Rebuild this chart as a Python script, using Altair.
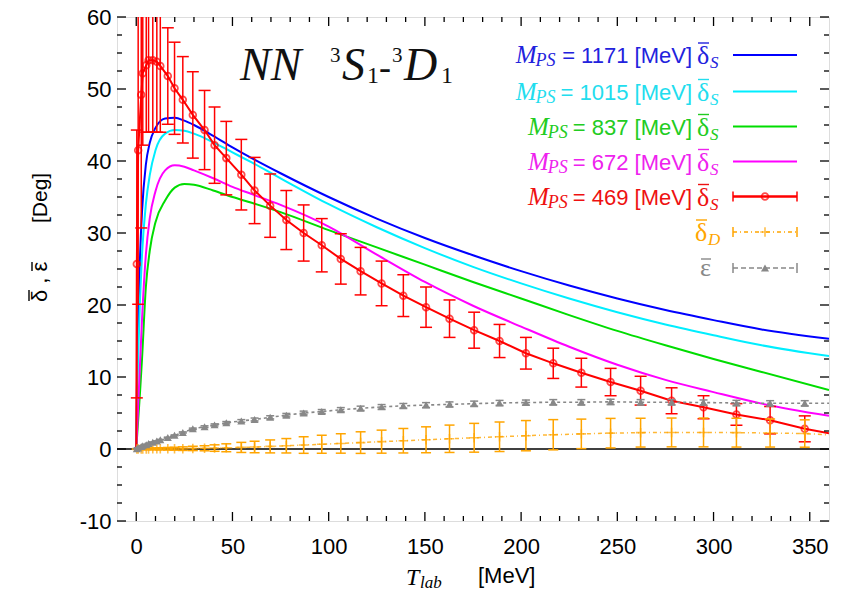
import altair as alt
import pandas as pd

# ---------------- values ----------------
T_CURVE = [0, 0.5, 1, 2, 3, 5, 7, 10, 15, 20, 25, 30, 40, 50, 60, 75, 100,
           125, 150, 175, 200, 225, 250, 275, 300, 325, 360]
S_1171 = [0, 12, 18, 27, 33, 39.5, 42.5, 44.6, 45.9, 46.0, 45.6, 45.0, 43.5, 41.9,
          40.4, 38.3, 35.0, 32.0, 29.3, 26.9, 24.7, 22.7, 20.9, 19.3, 17.9, 16.6, 15.3]
S_1015 = [0, 8, 13, 21, 27, 34, 38, 41.5, 43.8, 44.3, 44.2, 43.8, 42.6, 41.2,
          39.8, 37.6, 34.0, 30.8, 27.9, 25.3, 23.0, 20.9, 19.0, 17.3, 15.8, 14.4, 12.9]
S_837 = [0, 2, 4, 8, 12.5, 22.5, 27.5, 31.5, 34.5, 36.3, 36.8, 36.7, 35.9, 35.0,
         34.2, 32.9, 30.4, 28.0, 25.6, 23.2, 20.9, 18.6, 16.4, 14.4, 12.5, 10.7, 8.2]
S_672 = [0, 3, 6, 12, 18, 27, 32, 35.8, 38.7, 39.4, 39.2, 38.7, 37.6, 36.4,
         35.4, 33.9, 30.9, 27.0, 23.2, 19.9, 17.0, 14.2, 11.7, 9.6, 7.9, 6.3, 4.6]

T_PTS = [0.3, 1.0, 2.6, 3.4, 5.2, 6.4, 8.6, 10.7, 12.5, 16.4, 19.9, 24.2, 29.4, 35.5,
         40.7, 46.8, 54.6, 61.5, 69.6, 78.0, 87.0, 96.4, 106.3, 116.6, 127.5, 138.8,
         150.6, 162.8, 175.6, 188.8, 202.5, 216.7, 231.3, 246.5, 262.1, 278.2, 294.8,
         311.9, 329.4, 347.4]
S_469 = [25.7, 41.5, 49.2, 52.2, 53.3, 54.0, 54.0, 53.8, 53.2, 51.8, 50.1, 48.5, 46.4,
         44.3, 42.2, 40.4, 38.1, 35.9, 33.8, 31.8, 30.0, 28.3, 26.4, 24.7, 23.0, 21.3,
         19.7, 18.1, 16.5, 15.0, 13.3, 11.9, 10.6, 9.3, 8.1, 6.7, 5.8, 4.8, 4.0, 2.8]
E_469 = [18.6, 21.4, 18.5, 10.0, 9.3, 10.0, 10.0, 9.8, 9.2, 6.7, 6.4, 6.0, 6.0, 5.5,
         5.3, 5.1, 4.9, 4.6, 4.4, 4.1, 3.9, 3.7, 3.5, 3.3, 3.1, 2.9, 2.8, 2.6, 2.5, 2.3,
         2.2, 2.1, 2.0, 1.9, 2.0, 1.8, 1.6, 1.5, 1.9, 1.8]
D_D = [0.0, 0.0, 0.01, 0.01, 0.01, 0.01, 0.02, 0.02, 0.02, 0.03, 0.04, 0.05, 0.08, 0.1,
       0.13, 0.17, 0.22, 0.28, 0.36, 0.45, 0.55, 0.66, 0.77, 0.89, 1.02, 1.15, 1.28, 1.42,
       1.56, 1.7, 1.85, 1.98, 2.1, 2.2, 2.27, 2.3, 2.3, 2.27, 2.22, 2.15]
E_D = [0.05, 0.05, 0.08, 0.08, 0.1, 0.1, 0.12, 0.12, 0.15, 0.18, 0.2, 0.25, 0.3, 0.35,
       0.45, 0.55, 0.7, 0.8, 0.9, 1.0, 1.15, 1.25, 1.35, 1.5, 1.6, 1.7, 1.8, 1.9, 2.0, 2.05,
       2.1, 2.1, 2.05, 2.05, 2.0, 2.0, 2.0, 2.0, 1.95, 1.9]
EPS = [0.05, 0.15, 0.35, 0.45, 0.6, 0.75, 0.95, 1.1, 1.3, 1.6, 1.9, 2.3, 2.8, 3.1, 3.35,
       3.65, 3.9, 4.1, 4.4, 4.7, 5.0, 5.2, 5.45, 5.65, 5.85, 6.0, 6.1, 6.2, 6.3, 6.4, 6.45,
       6.5, 6.5, 6.55, 6.5, 6.5, 6.45, 6.4, 6.35, 6.35]
E_EPS = [0.03] * 9 + [0.05, 0.06, 0.08, 0.1, 0.12, 0.14, 0.16, 0.18, 0.2, 0.22, 0.24,
                      0.26, 0.28, 0.3, 0.3, 0.32, 0.32, 0.34, 0.34, 0.35, 0.35,
                      0.35, 0.36, 0.36, 0.36, 0.36, 0.36, 0.36, 0.36, 0.36, 0.36]
# line end values (T = 0 and right edge T = 360)
END_469 = [0.0, 2.2]
END_D = [0.0, 1.95]
END_EPS = [0.0, 6.35]

MASSES = ["1171", "1015", "837", "672", "469"]
X_MAJOR = [0, 50, 100, 150, 200, 250, 300, 350]
Y_MAJOR = [-10, 0, 10, 20, 30, 40, 50, 60]
X_MINOR = [t for t in range(10, 360, 10) if t % 50 != 0]
Y_MINOR = [v / 2 for v in range(-15, 120, 5) if v % 20 != 0]

BLUE, CYAN, GREEN, MAGENTA = "#0000ff", "#00eeff", "#00dd00", "#ff00ff"
RED, ORANGE, GRAY = "#ff0000", "#ffa500", "#888888"
SANS, SERIF = "Liberation Sans", "Liberation Serif"

W, H = 712, 504

# ---------------- scales / axes ----------------
XS = alt.Scale(domain=[-10, 360], nice=False, zero=False)
YS = alt.Scale(domain=[-10, 60], nice=False, zero=False)
XAX = alt.Axis(values=X_MAJOR, grid=False, ticks=False, tickSize=0, domain=False,
               labelFont=SANS, labelFontSize=22, labelColor="black", labelPadding=15,
               labelFlush=False, title=None)
YAX = alt.Axis(values=Y_MAJOR, grid=False, ticks=False, tickSize=0, domain=False,
               labelFont=SANS, labelFontSize=22, labelColor="black", labelPadding=6,
               labelExpr="datum.value + ''", title=None)


def X(f):
    return alt.X(f"{f}:Q", scale=XS, axis=XAX)


def Y(f):
    return alt.Y(f"{f}:Q", scale=YS, axis=YAX)


layers = []

# zero line
layers.append(alt.Chart(pd.DataFrame({"z": [0]})).mark_rule(color="black", strokeWidth=1.5)
              .encode(y=Y("z")))

# smooth curves
rows = []
for name, vals in [("1171", S_1171), ("1015", S_1015), ("837", S_837), ("672", S_672)]:
    for t, v in zip(T_CURVE, vals):
        rows.append({"T": t, "v": v, "s": name})
curves = pd.DataFrame(rows)
layers.append(alt.Chart(curves).mark_line(strokeWidth=2, interpolate="monotone", clip=True)
              .encode(x=X("T"), y=Y("v"),
                      color=alt.Color("s:N", scale=alt.Scale(domain=["1171", "1015", "837", "672"],
                                                             range=[BLUE, CYAN, GREEN, MAGENTA]),
                                      legend=None),
                      detail="s:N"))


def point_series(vals, errs, ends, color, line_kw, marker_kw, cap=10):
    pts = pd.DataFrame({"T": T_PTS, "v": vals,
                        "lo": [a - b for a, b in zip(vals, errs)],
                        "hi": [a + b for a, b in zip(vals, errs)]})
    ln = pd.DataFrame({"T": [0] + T_PTS + [360], "v": [ends[0]] + vals + [ends[1]]})
    out = [
        alt.Chart(ln).mark_line(color=color, clip=True, **line_kw).encode(x=X("T"), y=Y("v")),
        alt.Chart(pts).mark_rule(color=color, strokeWidth=1.5, clip=True)
        .encode(x=X("T"), y=Y("lo"), y2="hi:Q"),
        alt.Chart(pts).mark_rule(color=color, strokeWidth=1.5, clip=True,
                                 xOffset=-cap / 2, x2Offset=cap / 2)
        .encode(x=X("T"), x2="T:Q", y=Y("hi")),
        alt.Chart(pts).mark_rule(color=color, strokeWidth=1.5, clip=True,
                                 xOffset=-cap / 2, x2Offset=cap / 2)
        .encode(x=X("T"), x2="T:Q", y=Y("lo")),
        alt.Chart(pts).mark_point(color=color, clip=True, **marker_kw).encode(x=X("T"), y=Y("v")),
    ]
    return out


PLUS = "M-1,0L1,0M0,-1L0,1"
RED_MK = dict(shape="circle", filled=False, size=45, strokeWidth=1.8)
OR_MK = dict(shape=PLUS, filled=False, size=90, strokeWidth=1.6)
GR_MK = dict(shape="triangle-up", filled=True, size=65, opacity=1)

layers += point_series(S_469, E_469, END_469, RED, dict(strokeWidth=2), RED_MK, cap=12)
layers += point_series(D_D, E_D, END_D, ORANGE, dict(strokeWidth=1.5, strokeDash=[4, 3, 1, 3], opacity=0.8), OR_MK, cap=10)
layers += point_series(EPS, E_EPS, END_EPS, GRAY, dict(strokeWidth=1.6, strokeDash=[3, 3]), GR_MK, cap=8)

# inward ticks on all four sides
def tick_layers(xvals, yvals, length):
    dx = pd.DataFrame({"t": xvals})
    dy = pd.DataFrame({"t": yvals})
    kw = dict(color="black", strokeWidth=1.3)
    return [
        alt.Chart(dx).mark_rule(**kw).encode(x=X("t"), y=alt.value(H), y2=alt.value(H - length)),
        alt.Chart(dx).mark_rule(**kw).encode(x=X("t"), y=alt.value(0), y2=alt.value(length)),
        alt.Chart(dy).mark_rule(**kw).encode(y=Y("t"), x=alt.value(0), x2=alt.value(length)),
        alt.Chart(dy).mark_rule(**kw).encode(y=Y("t"), x=alt.value(W), x2=alt.value(W - length)),
    ]


layers += tick_layers(X_MAJOR, Y_MAJOR, 9)
layers += tick_layers(X_MINOR, Y_MINOR, 5)

ONE = pd.DataFrame({"a": [0]})


def txt(s, x, y, size, color="black", font=SANS, style="normal", align="left",
        baseline="alphabetic", angle=0):
    return alt.Chart(ONE).mark_text(text=s, font=font, fontSize=size, fontStyle=style,
                                    color=color, align=align, baseline=baseline,
                                    angle=angle).encode(x=alt.value(x), y=alt.value(y))


def bar(x0, x1, y0, y1, color, width=1.4):
    return alt.Chart(ONE).mark_rule(color=color, strokeWidth=width).encode(
        x=alt.value(x0), x2=alt.value(x1), y=alt.value(y0), y2=alt.value(y1))


# panel title  NN 3S1-3D1
TC = "#111111"
layers += [
    txt("NN", 123, 63, 46, TC, SERIF, "italic"),
    txt("3", 213, 45, 21, TC, SERIF),
    txt("S", 225, 63, 46, TC, SERIF, "italic"),
    txt("1", 250, 66, 24, TC, SERIF),
    txt("-", 262, 62, 36, TC, SERIF),
    txt("3", 275, 45, 21, TC, SERIF),
    txt("D", 287, 63, 46, TC, SERIF, "italic"),
    txt("1", 324, 66, 24, TC, SERIF),
]

# legend
AW = {"=": 0.584, " ": 0.278, "[": 0.278, "]": 0.278, "M": 0.833, "e": 0.556, "V": 0.667}
for d in "0123456789":
    AW[d] = 0.556
LEG_Y = [38, 74.5, 109.5, 144.5, 179.5, 215, 251]
LEG_C = [BLUE, CYAN, GREEN, MAGENTA, RED]
TXT_C = ["#2222dd", "#22ddee", "#22cc22", "#ee22ee", "#ee1111"]
L0, L1 = 616, 680
for i, (m, c, tc) in enumerate(zip(MASSES, LEG_C, TXT_C)):
    yc = LEG_Y[i]
    s = f"= {m} [MeV]"
    w = sum(AW[ch] for ch in s) * 22
    right = 575
    ps_right = right - w - 5
    m_right = ps_right - (0.611 + 0.5) * 18 + 1
    layers += [
        txt(s, right, yc + 8, 22, tc, SANS, align="right"),
        txt("PS", ps_right, yc + 11, 18, tc, SERIF, "italic", "right"),
        txt("M", m_right, yc + 8, 25, tc, SERIF, "italic", "right"),
        txt("δ", 580, yc + 9, 26, tc, SERIF),
        bar(581, 592, yc - 12, yc - 12, tc),
        txt("S", 593, yc + 13, 17, tc, SERIF, "italic"),
    ]
    layers.append(alt.Chart(ONE).mark_rule(color=c, strokeWidth=2)
                  .encode(x=alt.value(L0), x2=alt.value(L1), y=alt.value(yc)))

# red / orange / gray legend symbols
def leg_symbol(yc, color, dash, marker_kw, width):
    out = []
    kw = dict(color=color, strokeWidth=width)
    if dash:
        kw["strokeDash"] = dash
    out.append(alt.Chart(ONE).mark_rule(**kw).encode(x=alt.value(L0), x2=alt.value(L1), y=alt.value(yc)))
    for xx in (L0, L1):
        out.append(alt.Chart(ONE).mark_rule(color=color, strokeWidth=1.5)
                   .encode(x=alt.value(xx), y=alt.value(yc - 5), y2=alt.value(yc + 5)))
    out.append(alt.Chart(ONE).mark_point(color=color, **marker_kw)
               .encode(x=alt.value((L0 + L1) / 2), y=alt.value(yc)))
    return out


layers += leg_symbol(LEG_Y[4], RED, None, RED_MK, 2)
layers += leg_symbol(LEG_Y[5], ORANGE, [4, 3, 1, 3], OR_MK, 1.5)
layers += leg_symbol(LEG_Y[6], GRAY, [5, 3], GR_MK, 1.5)

layers += [
    txt("δ", 578, LEG_Y[5] + 9, 26, ORANGE, SERIF),
    bar(579, 590, LEG_Y[5] - 12, LEG_Y[5] - 12, ORANGE),
    txt("D", 591, LEG_Y[5] + 13, 17, ORANGE, SERIF, "italic"),
    txt("ε", 583, LEG_Y[6] + 8, 26, GRAY, SERIF),
    bar(584, 594, LEG_Y[6] - 9, LEG_Y[6] - 9, GRAY),
]

# axis titles
layers += [
    txt("T", 289, 568, 24, "black", SERIF, "italic"),
    txt("lab", 303, 571, 17, "black", SERIF, "italic"),
    txt("[MeV]", 361, 566, 22, "black", SANS),
    txt("δ , ε", -70, 285, 22, "black", SANS, angle=270),
    bar(-88, -88, 273, 284, "black"),
    bar(-85, -85, 245, 254, "black"),
    txt("[Deg]", -70, 206, 21, "black", SANS, angle=270),
]

chart = alt.layer(*layers).properties(
    width=W, height=H,
    autosize=alt.AutoSizeParams(type="none"),
    padding={"left": 109, "top": 9, "right": 3, "bottom": 73},
).configure_view(stroke="black", strokeWidth=1.5).configure(background="white")

chart.save("out.html", embed_options={"renderer": "svg", "actions": False})
